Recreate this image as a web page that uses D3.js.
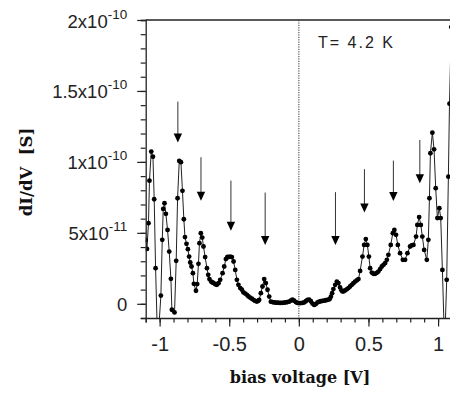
<!DOCTYPE html>
<html>
<head>
<meta charset="utf-8">
<script src="https://cdn.jsdelivr.net/npm/d3@7"></script>
<style>
  body { margin: 0; background: #fff; }
  svg { display: block; }
</style>
</head>
<body>
<div id="chart"></div>
<script>
// bias voltage [V] and dI/dV in units of 1e-11 S
const biasV = [
  -1.100, -1.091, -1.080, -1.073, -1.060, -1.048, -1.039, -1.029, -1.014, -0.991,
  -0.981, -0.974, -0.965, -0.955, -0.943, -0.931, -0.919, -0.912, -0.893, -0.881,
  -0.871, -0.859, -0.847, -0.836, -0.826, -0.818, -0.807, -0.797, -0.788, -0.780,
  -0.771, -0.761, -0.754, -0.739, -0.730, -0.721, -0.714, -0.704, -0.694, -0.685,
  -0.673, -0.660, -0.651, -0.642, -0.630, -0.620, -0.613, -0.600, -0.589, -0.577,
  -0.565, -0.548, -0.536, -0.524, -0.513, -0.505, -0.493, -0.481, -0.469, -0.457,
  -0.445, -0.434, -0.421, -0.409, -0.398, -0.385, -0.373, -0.362, -0.350, -0.338,
  -0.326, -0.314, -0.302, -0.292, -0.285, -0.273, -0.261, -0.249, -0.237, -0.225,
  -0.213, -0.201, -0.190, -0.178, -0.166, -0.154, -0.142, -0.130, -0.118, -0.106,
  -0.094, -0.082, -0.070, -0.058, -0.046, -0.034, -0.022, -0.010, 0.002, 0.014,
  0.026, 0.038, 0.050, 0.062, 0.074, 0.086, 0.098, 0.110, 0.122, 0.134,
  0.146, 0.158, 0.170, 0.182, 0.194, 0.206, 0.220, 0.230, 0.239, 0.248,
  0.261, 0.273, 0.284, 0.296, 0.306, 0.313, 0.322, 0.332, 0.344, 0.356,
  0.368, 0.380, 0.392, 0.404, 0.416, 0.428, 0.440, 0.457, 0.469, 0.481,
  0.492, 0.503, 0.512, 0.524, 0.536, 0.548, 0.560, 0.571, 0.584, 0.596,
  0.608, 0.620, 0.632, 0.643, 0.660, 0.675, 0.686, 0.698, 0.711, 0.727,
  0.747, 0.763, 0.780, 0.799, 0.811, 0.823, 0.842, 0.851, 0.864, 0.876,
  0.887, 0.900, 0.919, 0.930, 0.938, 0.945, 0.959, 0.971, 0.983, 0.995,
  1.009, 1.019, 1.031, 1.047, 1.062, 1.074, 1.082, 1.095
];
const dIdV = [
  4.50, 3.87, 5.68, 8.68, 10.73, 10.37, 7.37, 2.51, -3.00, 0.58,
  4.51, 6.69, 7.09, 6.34, 5.21, 3.68, 1.76, -0.42, -0.61, 3.03,
  7.44, 10.07, 9.98, 7.96, 5.96, 4.70, 4.23, 3.85, 3.33, 2.91,
  2.63, 2.16, 1.41, 0.92, 1.39, 2.82, 4.27, 4.98, 4.67, 4.04,
  3.29, 2.51, 2.04, 1.74, 1.57, 1.50, 1.46, 1.38, 1.34, 1.45,
  1.69, 2.16, 2.63, 3.15, 3.30, 3.29, 3.32, 3.29, 2.98, 2.39,
  1.69, 1.34, 1.11, 0.99, 0.80, 0.72, 0.63, 0.52, 0.44, 0.36,
  0.28, 0.20, 0.16, 0.20, 0.28, 0.75, 1.22, 1.74, 1.46, 0.99,
  0.51, 0.15, 0.12, 0.10, 0.08, 0.08, 0.07, 0.06, 0.07, 0.08,
  0.10, 0.12, 0.15, 0.22, 0.30, 0.22, 0.12, 0.06, 0.05, 0.05,
  0.06, 0.10, 0.18, 0.28, 0.30, 0.18, 0.02, -0.08, -0.02, 0.10,
  0.15, 0.18, 0.20, 0.22, 0.25, 0.28, 0.32, 0.50, 0.75, 1.04,
  1.34, 1.57, 1.46, 1.15, 0.95, 0.87, 0.88, 0.94, 1.02, 1.11,
  1.22, 1.34, 1.45, 1.57, 1.65, 1.74, 2.32, 3.33, 4.15, 4.56,
  4.15, 3.33, 2.51, 2.20, 2.12, 2.11, 2.18, 2.27, 2.45, 2.63,
  2.75, 2.87, 3.10, 3.45, 4.15, 4.98, 5.21, 4.86, 4.15, 3.57,
  3.10, 3.10, 3.57, 4.04, 4.12, 4.15, 4.74, 5.56, 6.11, 5.56,
  4.74, 3.80, 3.10, 4.51, 7.44, 10.61, 12.06, 10.89, 8.15, 6.04,
  6.74, 6.04, 2.39, -3.00, 1.69, 8.96, 14.10, 19.50
];

// arrows marking the peaks: position [V], top and tip (1e-11 S)
const arrowV = [-0.869, -0.703, -0.488, -0.242, 0.263, 0.471, 0.679, 0.869];
const arrowTop = [14.25, 10.33, 8.68, 7.84, 7.87, 9.49, 10.09, 11.55];
const arrowTip = [11.36, 7.27, 5.14, 4.15, 4.15, 6.43, 7.25, 8.50];

const xTicks = [-1, -0.5, 0, 0.5, 1];
const xTickLabels = ["-1", "-0.5", "0", "0.5", "1"];
const yTicks = [0, 5, 10, 15, 20];
const yTickMantissa = ["0", "5x10", "1x10", "1.5x10", "2x10"];
const yTickExponent = ["", "-11", "-10", "-10", "-10"];

const width = 450, height = 394;
const margin = { left: 145.7, top: 20 };
const plotW = 306.3, plotH = 298;

const svg = d3.select("#chart").append("svg")
  .attr("width", width).attr("height", height);

const chart = svg.append("g")
  .attr("transform", `translate(${margin.left},${margin.top})`);

const xScale = d3.scaleLinear().domain([-1.1, 1.1]).range([0, plotW]);
const yScale = d3.scaleLinear().domain([-1, 20]).range([plotH, 0]);

chart.append("clipPath").attr("id", "plot-clip")
  .append("rect").attr("width", plotW).attr("height", plotH);

// frame top line and zero bias marker
chart.append("line")
  .attr("x1", 0).attr("x2", plotW).attr("y1", 0).attr("y2", 0)
  .style("stroke", "#222").style("stroke-width", 1.3);

chart.append("line")
  .attr("x1", xScale(0)).attr("x2", xScale(0))
  .attr("y1", 0).attr("y2", plotH)
  .style("stroke", "#333").style("stroke-width", 1)
  .style("stroke-dasharray", "1.2,1.2");

const points = biasV.map((v, i) => ({ v: v, g: dIdV[i] }));

const plot = chart.append("g").attr("clip-path", "url(#plot-clip)");

const line = d3.line().x(d => xScale(d.v)).y(d => yScale(d.g));
plot.append("path")
  .attr("d", line(points))
  .style("fill", "none").style("stroke", "#222").style("stroke-width", 1);

plot.selectAll("circle")
  .data(points)
  .join("circle")
  .attr("cx", d => xScale(d.v))
  .attr("cy", d => yScale(d.g))
  .attr("r", 2.4)
  .style("fill", "#000");

// arrows
const arrows = chart.append("g");
arrowV.forEach((v, i) => {
  const x = xScale(v), y0 = yScale(arrowTop[i]), y1 = yScale(arrowTip[i]);
  arrows.append("line")
    .attr("x1", x).attr("x2", x).attr("y1", y0).attr("y2", y1 - 6)
    .style("stroke", "#333").style("stroke-width", 1);
  arrows.append("path")
    .attr("d", `M${x - 4.2},${y1 - 9}L${x + 4.2},${y1 - 9}L${x},${y1}Z`)
    .style("fill", "#000");
});

// axes
const xAxis = chart.append("g").attr("transform", `translate(0,${plotH})`);
xAxis.call(d3.axisBottom(xScale).tickValues(d3.range(-11, 12).map(d => d / 10))
  .tickSize(4.5).tickFormat(""));
xAxis.append("g").call(d3.axisBottom(xScale).tickValues(xTicks)
  .tickSize(8.5).tickPadding(10).tickFormat((d, i) => xTickLabels[i]));

const yAxis = chart.append("g");
yAxis.call(d3.axisLeft(yScale).tickValues(d3.range(-1, 21))
  .tickSize(5).tickFormat(""));
yAxis.append("g").call(d3.axisLeft(yScale).tickValues(yTicks)
  .tickSize(8.5).tickPadding(10).tickFormat(""));

[xAxis, yAxis].forEach(a => {
  a.selectAll("path.domain").style("stroke", "#222").style("stroke-width", 1.3);
  a.selectAll(".tick line").style("stroke", "#222").style("stroke-width", 1.2);
  a.selectAll("path.domain").filter((d, i, n) => n[i].parentNode !== a.node()).remove();
});

xAxis.selectAll(".tick text")
  .style("font-family", "'Liberation Sans', Arial, sans-serif")
  .style("font-size", "20px").style("fill", "#222");

// y tick labels with exponents
const yLabels = chart.append("g")
  .style("font-family", "'Liberation Sans', Arial, sans-serif")
  .style("fill", "#222");
yTicks.forEach((t, i) => {
  const txt = yLabels.append("text")
    .attr("x", -18.5).attr("y", yScale(t) + 7.5)
    .attr("text-anchor", "end")
    .style("font-size", "18.5px");
  txt.append("tspan").text(yTickMantissa[i]);
  if (yTickExponent[i])
    txt.append("tspan").attr("dy", -9).style("font-size", "13.5px").text(yTickExponent[i]);
});

// annotations and axis titles
chart.append("text")
  .attr("x", 318 - margin.left).attr("y", 48 - margin.top)
  .attr("textLength", 75).attr("lengthAdjust", "spacing")
  .style("font-family", "'Liberation Sans', Arial, sans-serif")
  .style("font-size", "16px").style("fill", "#222")
  .text("T= 4.2 K");

svg.append("text")
  .attr("x", 300).attr("y", 383)
  .attr("text-anchor", "middle")
  .style("font-family", "'DejaVu Serif', serif")
  .style("font-weight", "bold").style("font-size", "16px").style("fill", "#111")
  .text("bias voltage [V]");

svg.append("text")
  .attr("transform", "translate(32,172) rotate(-90)")
  .attr("text-anchor", "middle")
  .style("font-family", "'DejaVu Serif', serif")
  .style("font-weight", "bold").style("font-size", "16.5px").style("fill", "#111")
  .text("dI/dV\u00a0 [S]");
</script>
</body>
</html>
